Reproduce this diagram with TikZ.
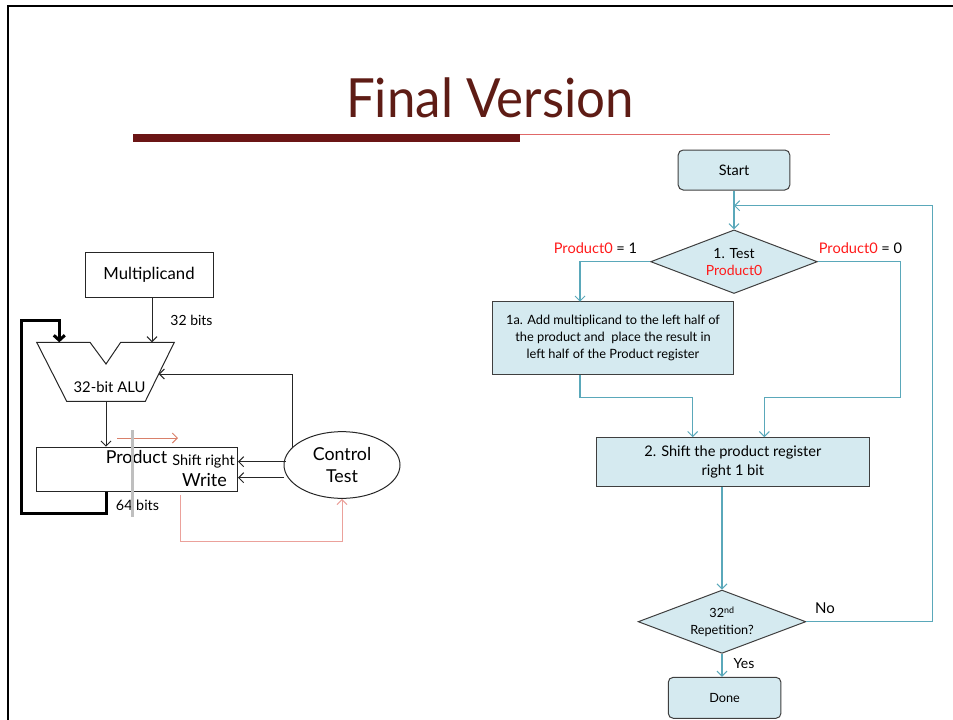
\documentclass[tikz,border=0pt]{standalone}
\usepackage{fontspec}
\setmainfont{Lato}
\usetikzlibrary{arrows.meta,shapes.geometric}
\definecolor{titlered}{HTML}{5E1C15}
\definecolor{barred}{HTML}{6B1515}
\definecolor{lightred}{HTML}{E06868}
\definecolor{flowline}{HTML}{5AA8BA}
\definecolor{flowfill}{HTML}{D5EAF0}
\definecolor{flowborder}{HTML}{3F3F3F}
\definecolor{salmon}{HTML}{EBA19B}
\definecolor{shiftarrow}{HTML}{D9806A}
\definecolor{labelred}{HTML}{FF1A1A}
\newcommand{\fsz}[2]{\fontsize{#1}{#2}\selectfont}
\tikzset{
  barb/.style={-{Straight Barb[length=5pt,width=10pt,line width=1pt]}},
  lline/.style={draw=black!85, line width=1pt},
  larr/.style={lline, barb},
  fline/.style={draw=flowline, line width=1.4pt},
  farr/.style={fline, barb},
  fbox/.style={draw=flowborder, fill=flowfill, line width=1pt, inner sep=0pt, align=center},
  fdiam/.style={fbox, diamond, aspect=2.65},
}
\begin{document}
\begin{tikzpicture}[x=1pt,y=-1pt]
\useasboundingbox (0,0) rectangle (953,720);
% frame
\draw[line width=2.5pt] (8,722) -- (8,6) -- (955,6);
% title
\node[text=titlered, font=\fsz{54}{60}] (title) at (490,98) {\scalebox{0.945}[1]{Final Version}};
\fill[barred] (133,133.5) rectangle (520,141.5);
\draw[lightred, line width=1pt] (520,134) -- (830,134);

% ---------- left datapath ----------
\node[lline, minimum width=128pt, minimum height=44.6pt, font=\fsz{16.7}{20}] (mult) at (149,275) {Multiplicand};
\coordinate (a1) at (36.7,342.3);
\coordinate (a2) at (90,342.3);
\coordinate (a3) at (106,364);
\coordinate (a4) at (120.7,342.3);
\coordinate (a5) at (174.3,342.3);
\coordinate (a6) at (145.3,401.3);
\coordinate (a7) at (66.7,401.3);
\draw[lline] (a1) -- (a2) -- (a3) -- (a4) -- (a5) -- (a6) -- (a7) -- cycle;
\node[font=\fsz{14.8}{17}] (alulbl) at (109.5,387) {32-bit ALU};
\coordinate (aluin) at (152,342.3);
\coordinate (aluout) at (106,401.3);
\coordinate (alufb) at (59.3,342.3);
\coordinate (alur) at (158.7,374);
\node[font=\fsz{14}{17}] (b32) at (191.5,320) {32 bits};
\draw[larr] (mult.south -| aluin) -- (aluin);

\node[lline, minimum width=200.7pt, minimum height=44pt, anchor=north west] (prod) at (36.3,446.7) {};
\node[font=\fsz{17.8}{21}] (prodlbl) at (136.5,457.5) {Product};
\node[font=\fsz{14.5}{17}] (shiftlbl) at (203.5,461) {Shift right};
\node[font=\fsz{18}{21}] (writelbl) at (204.5,480) {Write};
\node[font=\fsz{14.3}{17}] (b64) at (137.5,505.7) {64 bits};
\draw[larr] (aluout) -- (aluout |- prod.north);
\draw[line width=3pt, -{Straight Barb[length=5pt,width=11pt,line width=3pt]}]
  (prod.south -| aluout) -- (106,513.3) -- (21,513.3) -- (21,320) -- (59.3,320) -- (alufb);

\node[lline, ellipse, minimum width=116pt, minimum height=66.7pt, align=center, inner sep=0pt, font=\fsz{17.8}{22}] (ctrl) at (342,465) {Control\\Test};
\coordinate (sr) at (0,461.7);
\coordinate (wr) at (0,477.7);
\draw[larr] (ctrl.west |- sr) ++(2,0) -- (prod.east |- sr);
\draw[larr] (ctrl.west |- wr) ++(0.5,0) -- (prod.east |- wr);
\draw[larr] (ctrl.160) |- (alur);
\coordinate (pw) at (180.3,495);
\draw[salmon, line width=1pt, barb] (pw) -- (180.3,541.7) -| (ctrl.south);
\draw[shiftarrow, line width=1pt, barb] (117,438) -- (178,438);
\draw[black!25, line width=3.5pt] (132.7,430) -- (132.7,517);

% ---------- right flowchart ----------
\node[fbox, rounded corners=5pt, minimum width=111.6pt, minimum height=40pt, font=\fsz{14.5}{17}] (start) at (734,170) {Start};
\node[fdiam, minimum width=166.7pt, minimum height=63.6pt, font=\fsz{14}{16.7}] (d1) at (734,261.7) {1. Test\\\textcolor{labelred}{Product0}};
\node[font=\fsz{14.6}{17}] (l1) at (595.5,247.7) {\textcolor{labelred}{Product0} = 1};
\node[font=\fsz{14.6}{17}] (l0) at (860.5,247.7) {\textcolor{labelred}{Product0} = 0};
\node[fbox, minimum width=240.6pt, minimum height=72.3pt, font=\fsz{12.8}{17}] (b1) at (613,338)
  {1a. Add multiplicand to the left half of\\the product and \ place the result in\\left half of the Product register};
\node[fbox, minimum width=272.3pt, minimum height=48.3pt, font=\fsz{14.6}{19.4}] (b2) at (732.85,461.85)
  {2. Shift the product register\\right 1 bit};
\node[fdiam, minimum width=167.7pt, minimum height=63.3pt, font=\fsz{12.7}{17}] (d2) at (722,621.7) {32\textsuperscript{nd}\\Repetition?};
\node[fbox, rounded corners=5pt, minimum width=112.7pt, minimum height=41pt, font=\fsz{12.7}{15}] (done) at (724.6,697.8) {Done};
\node[font=\fsz{14}{17}] (yes) at (744,664) {Yes};
\node[font=\fsz{15}{17}] (no) at (825,608) {No};

\coordinate (join) at (734,205.7);
\coordinate (loopx) at (932.5,205.7);
\coordinate (b1in) at (580,301.7);
\coordinate (m1) at (692.7,397.3);
\coordinate (r1) at (900.7,397.3);
\coordinate (r2) at (764.3,397.3);
\draw[farr] (start.south) -- (d1.north);
\draw[farr] (d2.east) -| (loopx) -- (join);
\draw[farr] (d1.west) -| (b1in);
\draw[farr] (b1.south -| b1in) |- (m1) -- (b2.north -| m1);
\draw[farr] (d1.east) -| (r1) -- (r2) -- (b2.north -| r2);
\draw[farr] (b2.south -| d2.north) -- (d2.north);
\draw[farr] (d2.south) -- (done.north -| d2.south);
\end{tikzpicture}
\end{document}
